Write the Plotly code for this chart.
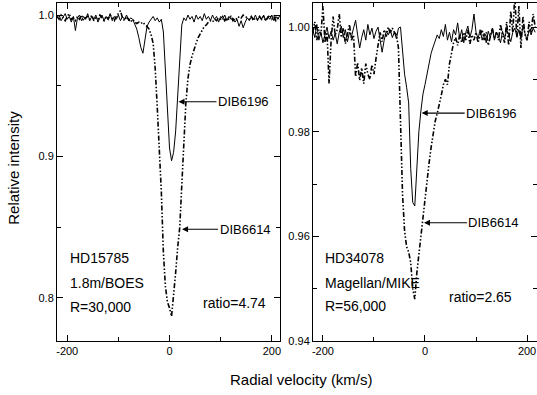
import plotly.graph_objects as go

# Velocity grid (km/s)
velocity = list(range(-220, 217, 4))

# HD15785 (1.8m/BOES)
hd15785_dib6196 = [
    0.998, 1.000, 0.996, 0.999, 1.001, 0.997, 0.999, 0.995, 0.999, 0.989,
    0.998, 1.000, 0.996, 0.999, 0.997, 1.001, 0.996, 0.999, 0.997, 1.000,
    0.995, 0.998, 1.000, 0.996, 0.999, 0.997, 1.001, 0.996, 0.999, 0.997,
    1.000, 0.996, 0.999, 0.997, 1.000, 0.996, 0.998, 0.997, 0.994, 0.990,
    0.984, 0.977, 0.973, 0.983, 0.992, 0.995, 0.997, 0.999, 0.996, 0.998,
    0.995, 0.997, 0.988, 0.962, 0.928, 0.906, 0.897, 0.903, 0.918, 0.942,
    0.972, 0.993, 0.998, 0.996, 1.000, 0.997, 0.999, 0.995, 1.000, 0.997,
    0.999, 0.996, 1.001, 0.997, 0.999, 0.996, 1.000, 0.997, 0.999, 0.995,
    0.999, 0.997, 1.000, 0.996, 0.999, 0.997, 0.998, 0.995, 0.997, 0.992,
    0.996, 0.991, 0.995, 0.998, 0.996, 0.999, 0.997, 1.000, 0.996, 0.999,
    0.997, 1.000, 0.996, 0.999, 0.997, 1.000, 0.996, 0.999, 0.997, 1.000,
]
hd15785_dib6614 = [
    0.999, 0.997, 1.000, 0.998, 0.996, 0.999, 1.001, 0.997, 0.998, 0.996,
    0.999, 0.997, 1.000, 0.996, 0.998, 0.999, 0.997, 1.000, 0.996, 0.998,
    0.997, 1.000, 0.998, 0.996, 0.999, 0.997, 1.000, 0.998, 0.996, 0.999,
    1.001, 1.003, 0.998, 0.996, 0.999, 0.997, 0.995, 0.997, 0.995, 0.994,
    0.995, 0.994, 0.995, 0.993, 0.992, 0.990, 0.986, 0.980, 0.962, 0.935,
    0.905, 0.875, 0.832, 0.808, 0.797, 0.793, 0.787, 0.801, 0.818, 0.836,
    0.850, 0.880, 0.912, 0.938, 0.955, 0.965, 0.971, 0.976, 0.980, 0.984,
    0.987, 0.990, 0.992, 0.993, 0.995, 0.996, 0.995, 0.997, 0.996, 0.998,
    0.997, 0.999, 0.996, 0.998, 0.997, 0.999, 0.996, 0.998, 0.997, 0.999,
    0.998, 1.000, 0.999, 0.998, 0.997, 0.999, 0.996, 0.998, 0.997, 0.999,
    0.997, 0.999, 0.996, 0.998, 1.000, 0.997, 0.999, 0.996, 0.998, 0.997,
]

# HD34078 (Magellan/MIKE)
hd34078_dib6196 = [
    0.9995, 0.9980, 1.0005, 0.9975, 0.9990, 0.9970, 0.9985, 1.0000, 0.9978, 0.9992,
    0.9975, 0.9988, 0.9968, 0.9990, 1.0002, 0.9980, 0.9995, 0.9972, 0.9990, 0.9982,
    0.9998, 1.0013, 0.9985, 0.9960, 0.9980, 0.9995, 0.9975, 1.0005, 0.9985, 0.9998,
    0.9978, 0.9992, 1.0000, 0.9972, 0.9952, 0.9975, 0.9992, 0.9985, 0.9995, 0.9980,
    0.9990, 0.9978, 0.9998, 1.0000, 0.9950, 0.9910, 0.9885, 0.9855, 0.9730, 0.9665,
    0.9658, 0.9735, 0.9800, 0.9840, 0.9872, 0.9890, 0.9910, 0.9930, 0.9950, 0.9962,
    0.9972, 0.9985, 0.9978, 0.9995, 0.9982, 1.0005, 0.9975, 0.9990, 0.9972, 0.9995,
    0.9985, 1.0008, 0.9978, 0.9995, 0.9970, 0.9990, 1.0002, 0.9980, 0.9995, 1.0025,
    0.9990, 0.9978, 0.9995, 0.9975, 0.9988, 0.9970, 0.9992, 0.9980, 0.9998, 0.9975,
    0.9990, 0.9982, 0.9970, 0.9992, 0.9978, 0.9995, 0.9985, 0.9972, 0.9990, 0.9998,
    0.9982, 0.9995, 0.9978, 1.0002, 0.9988, 0.9975, 0.9995, 0.9985, 0.9998, 0.9990,
]
hd34078_dib6614 = [
    0.9990, 1.0010, 0.9975, 0.9995, 0.9985, 1.0040, 0.9970, 0.9990, 0.9892, 0.9975,
    1.0020, 0.9985, 0.9995, 1.0025, 0.9980, 0.9998, 0.9968, 0.9990, 1.0005, 0.9975,
    0.9985, 0.9905, 0.9932, 0.9898, 0.9922, 0.9892, 0.9930, 0.9910, 0.9900, 0.9928,
    0.9910, 0.9940, 0.9970, 0.9990, 0.9972, 0.9995, 0.9982, 1.0000, 0.9988, 0.9998,
    0.9990, 0.9985, 0.9960, 0.9800, 0.9680, 0.9610, 0.9580, 0.9570, 0.9550, 0.9500,
    0.9480, 0.9530, 0.9565, 0.9610, 0.9640, 0.9670, 0.9705, 0.9740, 0.9770, 0.9800,
    0.9820, 0.9835, 0.9850, 0.9870, 0.9890, 0.9900, 0.9890, 0.9930, 0.9950, 0.9970,
    0.9980, 0.9965, 0.9985, 0.9970, 0.9990, 0.9975, 0.9995, 0.9968, 0.9985, 0.9975,
    0.9990, 0.9970, 0.9985, 0.9995, 0.9975, 0.9990, 0.9965, 0.9985, 0.9998, 0.9978,
    0.9990, 0.9975, 1.0005, 0.9985, 0.9970, 1.0010, 0.9965, 1.0030, 0.9990, 1.0060,
    0.9980, 1.0040, 0.9960, 1.0020, 0.9985, 0.9975, 1.0010, 0.9990, 1.0025, 1.0000,
]

x_tickvals = [-200, 0, 200]
x_ticktext = ["-200", "0", "200"]
left_y_tickvals = [0.8, 0.9, 1.0]
left_y_ticktext = ["0.8", "0.9", "1.0"]
right_y_tickvals = [0.94, 0.96, 0.98, 1.00]
right_y_ticktext = ["0.94", "0.96", "0.98", "1.00"]

TICKFONT = dict(family="Arial, Liberation Sans, sans-serif", size=11, color="black")
LABFONT = dict(family="Liberation Sans, Arial, sans-serif", size=14, color="black")
ARRFONT = dict(family="Liberation Sans, Arial, sans-serif", size=13, color="black")
DASH = "5px,2px,1.5px,2px,1.5px,2px"

fig = go.Figure()
fig.add_trace(go.Scatter(x=velocity, y=hd15785_dib6614, mode="lines",
                         line=dict(color="black", width=1.6, dash=DASH), xaxis="x", yaxis="y"))
fig.add_trace(go.Scatter(x=velocity, y=hd15785_dib6196, mode="lines",
                         line=dict(color="black", width=1), xaxis="x", yaxis="y"))
fig.add_trace(go.Scatter(x=velocity, y=hd34078_dib6614, mode="lines",
                         line=dict(color="black", width=1.6, dash=DASH), xaxis="x2", yaxis="y2"))
fig.add_trace(go.Scatter(x=velocity, y=hd34078_dib6196, mode="lines",
                         line=dict(color="black", width=1), xaxis="x2", yaxis="y2"))

common_axis = dict(showline=True, linecolor="black", linewidth=1, mirror="allticks",
                   ticks="inside", ticklen=6, tickcolor="black", tickwidth=1,
                   showgrid=False, zeroline=False, tickfont=TICKFONT)

fig.update_layout(
    width=537, height=395,
    margin=dict(l=57, r=0, t=3, b=54),
    paper_bgcolor="white", plot_bgcolor="white",
    showlegend=False,
    xaxis=dict(domain=[0, 0.4646], range=[-220, 216], anchor="y",
               tickmode="array", tickvals=x_tickvals, ticktext=x_ticktext,
               minor=dict(ticks="inside", ticklen=4, tickcolor="black", tickvals=[-100, 100]),
               **common_axis),
    yaxis=dict(domain=[0, 1], range=[0.7696, 1.0085], anchor="x",
               tickmode="array", tickvals=left_y_tickvals, ticktext=left_y_ticktext,
               minor=dict(ticks="inside", ticklen=4, tickcolor="black", tickvals=[0.85, 0.95]),
               **common_axis),
    xaxis2=dict(domain=[0.5333, 1.0], range=[-219.5, 219.5], anchor="y2",
                tickmode="array", tickvals=x_tickvals, ticktext=x_ticktext,
                minor=dict(ticks="inside", ticklen=4, tickcolor="black", tickvals=[-100, 100]),
                **common_axis),
    yaxis2=dict(domain=[0, 1], range=[0.94, 1.0046], anchor="x2",
                tickmode="array", tickvals=right_y_tickvals, ticktext=right_y_ticktext,
                minor=dict(ticks="inside", ticklen=4, tickcolor="black", tickvals=[0.95, 0.97, 0.99]),
                **common_axis),
)

ann = []
# axis titles
ann.append(dict(text="Radial velocity (km/s)", xref="paper", yref="paper", x=0.51, y=-0.115,
                xanchor="center", yanchor="middle", showarrow=False,
                font=dict(family="Arial, Liberation Sans, sans-serif", size=15, color="black")))
ann.append(dict(text="Relative intensity", xref="paper", yref="paper", x=-0.09, y=0.512,
                xanchor="center", yanchor="middle", showarrow=False, textangle=-90,
                font=dict(family="Arial, Liberation Sans, sans-serif", size=15, color="black")))

# left panel labels
for txt, yv in [("HD15785", 0.8283), ("1.8m/BOES", 0.8106), ("R=30,000", 0.7936)]:
    ann.append(dict(text=txt, xref="x", yref="y", x=-198, y=yv, xanchor="left", yanchor="middle",
                    showarrow=False, font=LABFONT))
ann.append(dict(text="ratio=4.74", xref="x", yref="y", x=193, y=0.7965, xanchor="right",
                yanchor="middle", showarrow=False, font=LABFONT))
# right panel labels
for txt, yv in [("HD34078", 0.95594), ("Magellan/MIKE", 0.9510), ("R=56,000", 0.94672)]:
    ann.append(dict(text=txt, xref="x2", yref="y2", x=-199, y=yv, xanchor="left", yanchor="middle",
                    showarrow=False, font=LABFONT))
ann.append(dict(text="ratio=2.65", xref="x2", yref="y2", x=175, y=0.94832, xanchor="right",
                yanchor="middle", showarrow=False, font=LABFONT))

# arrows
arrow_style = dict(showarrow=True, arrowhead=2, arrowsize=1, arrowwidth=1.2, arrowcolor="black",
                   ay=0, font=ARRFONT)
ann.append(dict(text="DIB6196", xref="x", yref="y", x=17.5, y=0.9387, ax=65, **arrow_style))
ann.append(dict(text="DIB6614", xref="x", yref="y", x=24.5, y=0.8486, ax=63, **arrow_style))
ann.append(dict(text="DIB6196", xref="x2", yref="y2", x=-6.5, y=0.98356, ax=70, **arrow_style))
ann.append(dict(text="DIB6614", xref="x2", yref="y2", x=-2, y=0.9626, ax=70, **arrow_style))

fig.update_layout(annotations=ann)
fig.write_html("out.html", config={"displayModeBar": False},
               post_script="document.body.style.margin='0px';")
